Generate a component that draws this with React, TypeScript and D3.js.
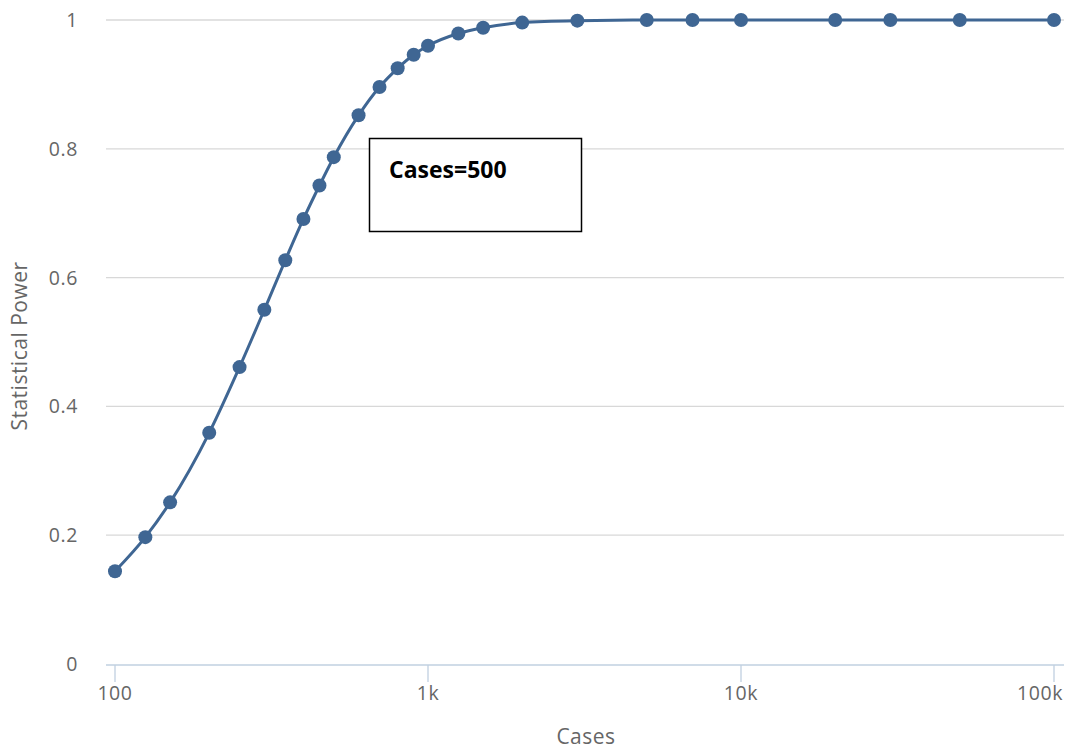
import React from 'react';
import * as d3 from 'd3';

// sample sizes and statistical power
const cases = [100, 125, 150, 200, 250, 300, 350, 400, 450, 500, 600, 700, 800, 900, 1000, 1250, 1500, 2000, 3000, 5000, 7000, 10000, 20000, 30000, 50000, 100000];
const power = [0.144, 0.197, 0.251, 0.359, 0.461, 0.55, 0.627, 0.691, 0.743, 0.787, 0.852, 0.896, 0.925, 0.946, 0.96, 0.979, 0.988, 0.996, 0.999, 1, 1, 1, 1, 1, 1, 1];
const xTicks = [100, 1000, 10000, 100000];
const xTickLabels = ['100', '1k', '10k', '100k'];
const yTicks = [0, 0.2, 0.4, 0.6, 0.8, 1];
const annotation = 'Cases=500';

const W = 1073;
const H = 753;
const left = 106;
const right = 1064;
const top = 20;
const bottom = 664;

export default function App() {
  const x = d3.scaleLog().domain([100, 100000]).range([115, 1054]);
  const y = d3.scaleLinear().domain([0, 1]).range([bottom, top]);
  const pts = cases.map((c, i) => [x(c), y(power[i])] as [number, number]);
  const line = d3.line().curve(d3.curveMonotoneX)(pts) || '';
  const font = '"Open Sans", sans-serif';
  const c = '#3f6693';

  return (
    <svg width={W} height={H} style={{ position: 'absolute', left: 0, top: 0, background: '#fff' }}>
      {/* grid */}
      {yTicks.filter(t => t > 0).map(t => (
        <line key={t} x1={left} x2={right} y1={y(t)} y2={y(t)} stroke="#d8d8d8" strokeWidth={1.3} />
      ))}
      {yTicks.map(t => (
        <text key={'l' + t} x={78} y={y(t) + 7} textAnchor="end" fontFamily={font} fontSize={19.5} fill="#666" letterSpacing={0.6}>
          {d3.format('~g')(t)}
        </text>
      ))}
      {/* x axis */}
      <line x1={left} x2={right} y1={bottom + 1} y2={bottom + 1} stroke="#c0d0e0" strokeWidth={1.3} />
      {xTicks.map((t, i) => (
        <g key={t}>
          <line x1={x(t)} x2={x(t)} y1={bottom + 1} y2={bottom + 18} stroke="#c0d0e0" strokeWidth={1.3} />
          <text x={i === xTicks.length - 1 ? 1063 : x(t)} y={700} textAnchor={i === xTicks.length - 1 ? 'end' : 'middle'} fontFamily={font} fontSize={19.5} fill="#666" letterSpacing={0.6}>
            {xTickLabels[i]}
          </text>
        </g>
      ))}
      <text x={586} y={744} textAnchor="middle" fontFamily={font} fontSize={21} fill="#666" letterSpacing={0.5}>Cases</text>
      <text transform={`translate(27,346) rotate(-90)`} textAnchor="middle" fontFamily={font} fontSize={21} fill="#666" letterSpacing={0.5}>
        Statistical Power
      </text>
      {/* series */}
      <path d={line} fill="none" stroke={c} strokeWidth={3} />
      {pts.map((p, i) => (
        <circle key={i} cx={p[0]} cy={p[1]} r={7} fill={c} />
      ))}
      {/* annotation */}
      <rect x={369.5} y={138.5} width={212} height={93} fill="#fff" stroke="#000" strokeWidth={1.5} />
      <text x={389} y={178} fontFamily={font} fontWeight="bold" fontSize={23} fill="#000">
        {annotation}
      </text>
    </svg>
  );
}
